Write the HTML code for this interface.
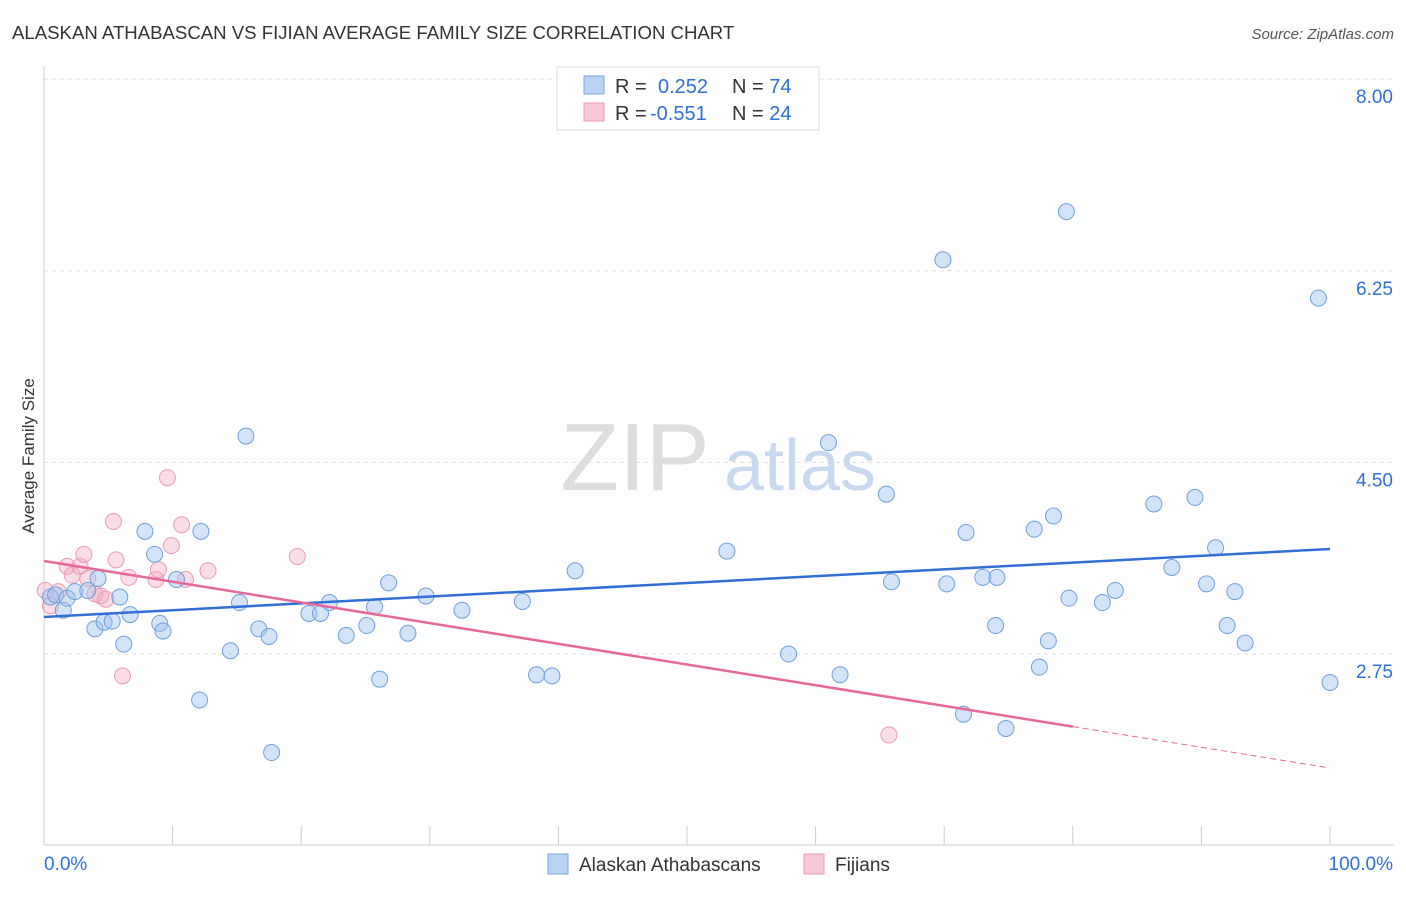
<!DOCTYPE html>
<html><head><meta charset="utf-8"><style>
body{margin:0;background:#fff;font-family:"Liberation Sans",sans-serif;}
svg text{font-family:"Liberation Sans",sans-serif;}
</style></head><body>
<svg id="chart" width="1406" height="892">
<text x="12" y="39" font-size="18.6" fill="#333">ALASKAN ATHABASCAN VS FIJIAN AVERAGE FAMILY SIZE CORRELATION CHART</text>
<text x="1394" y="39" font-size="15" fill="#555" text-anchor="end" font-style="italic">Source: ZipAtlas.com</text>
<text x="34" y="456" font-size="17" fill="#333" text-anchor="middle" transform="rotate(-90 34 456)">Average Family Size</text>
<g><text x="635" y="490" font-size="96" fill="#ddd" text-anchor="middle" font-family="Liberation Serif">ZIP</text><text x="800" y="490" font-size="72" fill="#c8d8ee" text-anchor="middle">atlas</text></g>
<g id="grid"></g><g id="axes"></g><g id="marks"></g>
<g>
<rect x="557" y="67" width="262" height="63" fill="#fff" stroke="#ddd"/>
<rect x="584" y="76" width="20" height="18" fill="#b9d3f5" stroke="#7aa8e0"/>
<rect x="584" y="103" width="20" height="18" fill="#f8c8d8" stroke="#e89ab5"/>
<text x="615" y="93" font-size="20" fill="#333">R = <tspan fill="#2f6fd6" x="658">0.252</tspan><tspan x="732">N = </tspan><tspan fill="#2f6fd6">74</tspan></text>
<text x="615" y="120" font-size="20" fill="#333">R = <tspan fill="#2f6fd6" x="650">-0.551</tspan><tspan x="732">N = </tspan><tspan fill="#2f6fd6">24</tspan></text>
</g>
<g>
<rect x="548" y="854" width="20" height="20" fill="#b9d3f5" stroke="#7aa8e0"/>
<text x="579" y="871" font-size="19" fill="#333">Alaskan Athabascans</text>
<rect x="804" y="854" width="20" height="20" fill="#f8c8d8" stroke="#e89ab5"/>
<text x="835" y="871" font-size="19" fill="#333">Fijians</text>
</g>
</svg>
<script>
const yTicks=[2.75,4.5,6.25,8.0];
const yTickLabels=["2.75","4.50","6.25","8.00"];
const blueX=[0.5,0.9,1.5,1.8,2.4,3.4,4.2,3.96,4.67,5.3,5.9,6.2,6.7,7.85,8.6,9.0,9.25,10.3,12.1,12.2,14.5,15.2,15.7,16.7,17.5,17.7,20.6,21.5,22.2,23.5,25.1,25.7,26.1,26.8,28.3,29.7,32.5,37.2,38.3,39.5,41.3,53.1,57.9,61.0,61.9,65.5,65.9,69.9,70.2,71.5,71.7,73.0,74.0,74.1,74.8,77.0,77.4,78.1,78.5,79.5,79.7,82.3,83.3,86.3,87.7,89.5,90.4,91.1,92.0,92.6,93.4,99.1,100.0];
const blueY=[3.27,3.29,3.15,3.26,3.32,3.33,3.44,2.98,3.04,3.05,3.27,2.84,3.11,3.87,3.66,3.03,2.96,3.43,2.33,3.87,2.78,3.22,4.74,2.98,2.91,1.85,3.12,3.12,3.22,2.92,3.01,3.18,2.52,3.40,2.94,3.28,3.15,3.23,2.56,2.55,3.51,3.69,2.75,4.68,2.56,4.21,3.41,6.35,3.39,2.20,3.86,3.45,3.01,3.45,2.07,3.89,2.63,2.87,4.01,6.79,3.26,3.22,3.33,4.12,3.54,4.18,3.39,3.72,3.01,3.32,2.85,6.00,2.49];
const pinkX=[0.1,0.5,1.1,1.8,2.2,2.8,3.1,3.4,3.96,4.4,4.8,5.4,5.6,6.1,6.6,8.7,8.9,9.6,9.9,10.7,11.0,12.75,19.7,65.7];
const pinkY=[3.33,3.19,3.32,3.55,3.47,3.55,3.66,3.44,3.30,3.28,3.25,3.96,3.61,2.55,3.45,3.43,3.52,4.36,3.74,3.93,3.43,3.51,3.64,2.01];
const blueTrend=[3.088,3.709];
const pinkTrend=[3.599,1.709];
const pinkSolidEnd=80;
const xTicks=[0,10,20,30,40,50,60,70,80,90,100];
const NS="http://www.w3.org/2000/svg";
const X=p=>44+p*12.86;
const Y=v=>654-(v-2.75)*109.5;
function mk(tag,attrs,parent){const e=document.createElementNS(NS,tag);for(const k in attrs)e.setAttribute(k,attrs[k]);document.getElementById(parent).appendChild(e);return e;}
yTicks.forEach((t,i)=>{
 const g=mk('line',{x1:44,x2:1394,y1:Y(t),y2:Y(t),stroke:'#ddd','stroke-dasharray':'4,4'},'grid');
 
 
 const l=mk('text',{x:1393,y:Y(t)+24,'font-size':19,fill:'#2f6fd6','text-anchor':'end'},'axes');
 l.textContent=yTickLabels[i];
 
 
});
const ya=mk('line',{x1:44,x2:44,y1:66,y2:845,stroke:'#ccc'},'axes');


const xa=mk('line',{x1:44,x2:1394,y1:845,y2:845,stroke:'#ccc'},'axes');


xTicks.forEach(t=>{const e=mk('line',{x1:X(t),x2:X(t),y1:826,y2:845,stroke:'#ccc'},'axes');
 
 });
const l0=mk('text',{x:44,y:870,'font-size':19,fill:'#2f6fd6'},'axes');l0.textContent='0.0%';


const l1=mk('text',{x:1393,y:870,'font-size':19,fill:'#2f6fd6','text-anchor':'end'},'axes');l1.textContent='100.0%';


pinkX.forEach((x,i)=>{const c=mk('circle',{cx:X(x),cy:Y(pinkY[i]),r:8,fill:'rgba(244,170,196,0.4)',stroke:'#e89ab5','stroke-width':1},'marks');
 
 });
blueX.forEach((x,i)=>{const c=mk('circle',{cx:X(x),cy:Y(blueY[i]),r:8,fill:'rgba(160,196,240,0.45)',stroke:'#6f9fdc','stroke-width':1},'marks');
 
 });
const bt=mk('line',{x1:X(0),y1:Y(blueTrend[0]),x2:X(100),y2:Y(blueTrend[1]),stroke:'#2f6fd6','stroke-width':2.5},'marks');


const pm=pinkTrend[0]+(pinkTrend[1]-pinkTrend[0])*pinkSolidEnd/100;
const pt=mk('line',{x1:X(0),y1:Y(pinkTrend[0]),x2:X(pinkSolidEnd),y2:Y(pm),stroke:'#e8679a','stroke-width':2.5},'marks');


const pd=mk('line',{x1:X(pinkSolidEnd),y1:Y(pm),x2:X(100),y2:Y(pinkTrend[1]),stroke:'#e8679a','stroke-width':1,'stroke-dasharray':'6,4'},'marks');


</script>
</body></html>
